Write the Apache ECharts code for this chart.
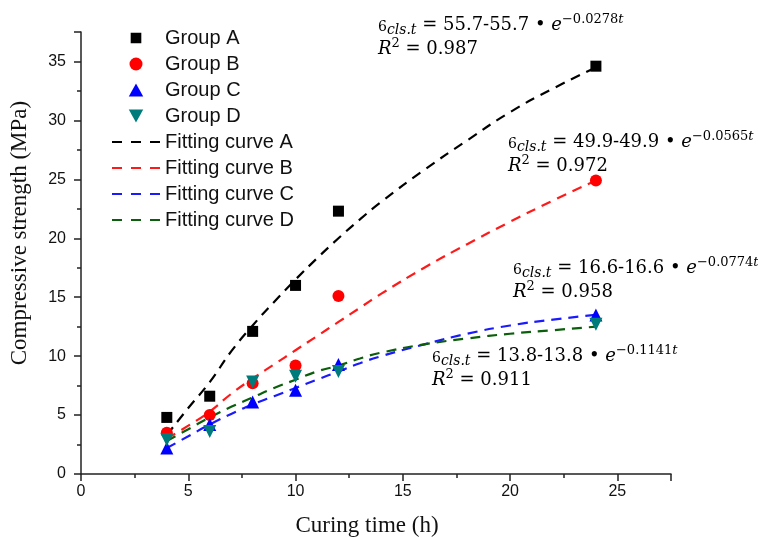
<!DOCTYPE html>
<html>
<head>
<meta charset="utf-8">
<script src="https://cdn.jsdelivr.net/npm/echarts@6/dist/echarts.min.js"></script>
<style>html,body{margin:0;padding:0;background:#fff;}#c{width:758px;height:538px;}</style>
</head>
<body>
<div id="c"></div>
<script>
// ---- data ----
const times = [4, 6, 8, 10, 12, 24];
const groupA = [4.8, 6.6, 12.1, 16.0, 22.3, 34.6];
const groupB = [3.5, 5.0, 7.7, 9.2, 15.1, 24.9];
const groupC = [2.2, 4.2, 6.1, 7.1, 9.3, 13.5];
const groupD = [2.9, 3.6, 7.8, 8.3, 8.7, 12.7];

const curveT = [4, 5, 6, 7, 8, 9, 10, 11, 12, 13, 14, 16, 18, 20, 22, 24];
const curveA = [3.3, 5.6, 7.8, 10.4, 12.6, 14.6, 16.5, 18.3, 20.0, 21.6, 23.1, 25.8, 28.3, 30.7, 32.7, 34.5];
const curveB = [3.0, 4.1, 5.3, 6.8, 8.1, 9.3, 10.5, 11.7, 12.9, 14.1, 15.3, 17.5, 19.5, 21.4, 23.2, 24.9];
const curveC = [2.2, 3.2, 4.2, 5.1, 5.9, 6.6, 7.3, 8.0, 8.7, 9.4, 10.0, 11.0, 11.9, 12.6, 13.1, 13.5];
const curveD = [2.8, 3.8, 4.8, 5.7, 6.5, 7.3, 8.0, 8.7, 9.2, 9.8, 10.3, 11.0, 11.5, 11.9, 12.2, 12.5];

const groupNames = ['Group A', 'Group B', 'Group C', 'Group D'];
const curveNames = ['Fitting curve A', 'Fitting curve B', 'Fitting curve C', 'Fitting curve D'];
const xTitle = 'Curing time (h)';
const yTitle = 'Compressive strength (MPa)';
const fitCoef = [
  ['55.7-55.7', '−0.0278', '0.987'],
  ['49.9-49.9', '−0.0565', '0.972'],
  ['16.6-16.6', '−0.0774', '0.958'],
  ['13.8-13.8', '−0.1141', '0.911']
];

// ---- styles ----
const markerColors = ['#000000', '#ff0000', '#0000ff', '#007b7b'];
const triDown = 'path://M0,0 L10,0 L5,9 Z';
const triUp = 'path://M5,0 L10,9 L0,9 Z';
const markerSymbols = ['rect', 'circle', triUp, triDown];
const markerSizes = [11, 12, 13, 13];
const legendSymbols = [
  'path://M1,1 L10,1 L10,10 L1,10 Z M0,0 L0,0.01 Z M11,11 L11,11.01 Z',
  'circle', triUp, triDown
];
const dashIcon = 'path://M0,0 H10 V2.2 H0 Z M19,0 H29 V2.2 H19 Z M38,0 H48 V2.2 H38 Z';
const curveColors = ['#000000', '#ff1a1a', '#1a1aff', '#0b5e0b'];
const annPos = [[378, 27], [508, 144], [513, 270], [432, 358]];

const pairs = (xs, ys) => xs.map((x, i) => [x, ys[i]]);
const groups = [groupA, groupB, groupC, groupD];
const curves = [curveA, curveB, curveC, curveD];

const series = [];
curves.forEach((c, i) => {
  series.push({
    name: curveNames[i], type: 'line', data: pairs(curveT, c), smooth: true,
    showSymbol: false, symbol: 'none', z: 2,
    lineStyle: { color: curveColors[i], width: 2.2, type: [10, 7] },
    itemStyle: { color: curveColors[i] }
  });
});
groups.forEach((g, i) => {
  series.push({
    name: groupNames[i], type: 'scatter', data: pairs(times, g),
    symbol: markerSymbols[i], symbolSize: markerSizes[i], z: 3,
    itemStyle: { color: markerColors[i], opacity: 1 }
  });
});

const legendData = groupNames.map((n, i) => ({
  name: n, icon: legendSymbols[i], itemStyle: { color: markerColors[i] }
})).concat(curveNames.map((n, i) => ({
  name: n, icon: dashIcon, itemStyle: { color: curveColors[i] }
})));

const serif = 'DejaVu Serif';
const rich = {
  s: { fontFamily: serif, fontSize: 14, color: '#222', verticalAlign: 'middle', padding: [4, 0, 0, 0] },
  sub: { fontFamily: serif, fontSize: 14, fontStyle: 'italic', color: '#222', padding: [10, 0, 0, 0] },
  n: { fontFamily: serif, fontSize: 18, color: '#222' },
  it: { fontFamily: serif, fontSize: 18, fontStyle: 'italic', color: '#222' },
  sup: { fontFamily: serif, fontSize: 13, color: '#222', padding: [0, 0, 10, 0] },
  supit: { fontFamily: serif, fontSize: 13, fontStyle: 'italic', color: '#222', padding: [0, 0, 10, 0] }
};
const graphics = fitCoef.map((f, i) => ({
  type: 'text', left: annPos[i][0], top: annPos[i][1] - 14, z: 10,
  style: {
    text: '{s|6}{sub|cls.t}{n| = ' + f[0] + ' • }{it|e}{sup|' + f[1] + '}{supit|t}\n{it|R}{sup|2}{n| = ' + f[2] + '}',
    rich: rich, lineHeight: 24
  }
}));

const chart = echarts.init(document.getElementById('c'));
chart.setOption({
  backgroundColor: '#fff',
  animation: false,
  grid: { left: 81, right: 87, top: 32, bottom: 64, containLabel: false, outerBoundsMode: 'none' },
  legend: {
    left: 112, top: 28, padding: 0, orient: 'vertical', itemWidth: 48, itemHeight: 13, itemGap: 6,
    symbolKeepAspect: true,
    data: legendData,
    textStyle: { fontFamily: 'Liberation Sans', fontSize: 20, color: '#111', padding: [0, 0, 0, 0] }
  },
  xAxis: {
    type: 'value', min: 0, max: 27.5, interval: 5,
    name: xTitle, nameLocation: 'middle', nameGap: 40,
    nameTextStyle: { fontFamily: 'Liberation Serif', fontSize: 23, color: '#111', padding: [0, 18, 0, 0] },
    axisLine: { lineStyle: { color: '#222', width: 1.5 } },
    axisTick: { length: 7, lineStyle: { color: '#222', width: 1.5 } },
    minorTick: { show: true, splitNumber: 2, length: 4, lineStyle: { color: '#222', width: 1.5 } },
    splitLine: { show: false },
    axisLabel: { fontFamily: 'Liberation Sans', fontSize: 16, color: '#111', margin: 10,
      formatter: v => (v % 5 === 0 ? String(v) : '') }
  },
  yAxis: {
    type: 'value', min: 0, max: 37.5, interval: 5,
    name: yTitle, nameLocation: 'middle', nameGap: 50,
    nameTextStyle: { fontFamily: 'Liberation Serif', fontSize: 23, color: '#111', padding: [0, 0, 0, 40] },
    axisLine: { show: true, lineStyle: { color: '#222', width: 1.5 } },
    axisTick: { show: true, length: 7, lineStyle: { color: '#222', width: 1.5 } },
    minorTick: { show: true, splitNumber: 2, length: 4, lineStyle: { color: '#222', width: 1.5 } },
    splitLine: { show: false },
    axisLabel: { fontFamily: 'Liberation Sans', fontSize: 16, color: '#111', margin: 15,
      formatter: v => (v % 5 === 0 ? String(v) : '') }
  },
  graphic: graphics,
  series: series
});
</script>
</body>
</html>
